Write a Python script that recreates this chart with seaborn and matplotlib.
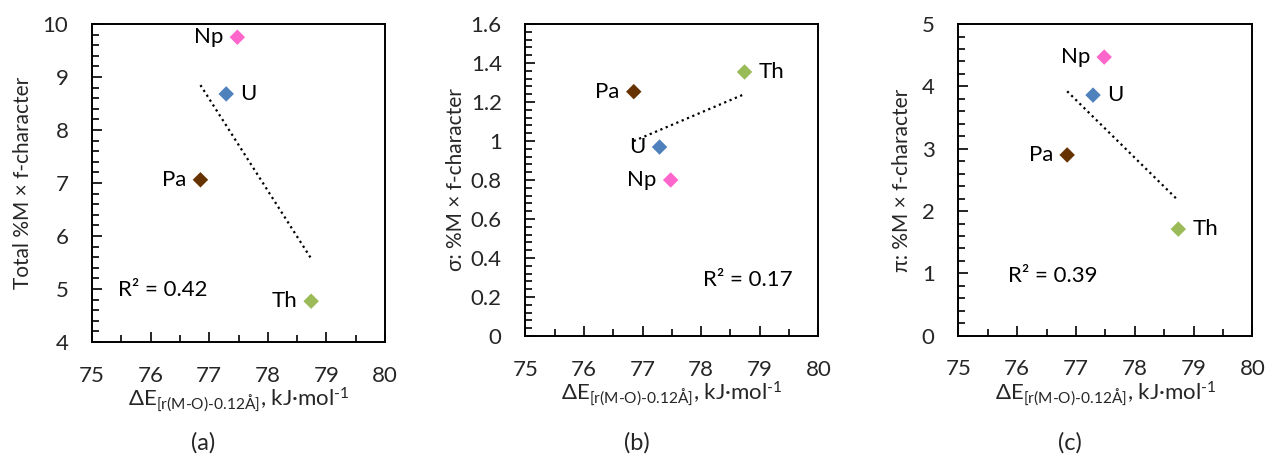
import numpy as np
import pandas as pd
import matplotlib
matplotlib.use("Agg")
import matplotlib.pyplot as plt
from matplotlib.ticker import MultipleLocator
import seaborn as sns

# ---- data ----
elements = ["Pa", "U", "Np", "Th"]
dE = [76.85, 77.29, 77.48, 78.74]
total_f = [7.06, 8.68, 9.75, 4.77]
sigma_f = [1.253, 0.969, 0.80, 1.354]
pi_f = [2.90, 3.86, 4.47, 1.71]
colors = ["#663300", "#4F81BD", "#FF66CC", "#9BBB59"]
r2_texts = ["R² = 0.42", "R² = 0.17", "R² = 0.39"]
panel_labels = ["(a)", "(b)", "(c)"]
y_labels = ["Total %M × f-character", "σ: %M × f-character", "π: %M × f-character"]
y_ranges = [(4, 10), (0, 1.6), (0, 5)]
y_major = [1, 0.2, 1]
y_minor = [0.2, 0.04, 0.2]
x_ticks = [75, 76, 77, 78, 79, 80]
sigma_ticklabels = ["0", "0.2", "0.4", "0.6", "0.8", "1", "1.2", "1.4", "1.6"]

sns.set_theme(style="white")
plt.rcParams["font.family"] = ["Lato", "DejaVu Sans"]
plt.rcParams["mathtext.fontset"] = "custom"
plt.rcParams["mathtext.rm"] = "Lato"
plt.rcParams["mathtext.it"] = "Lato"

FS = 16

fig = plt.figure(figsize=(12.68, 4.57), dpi=100)
positions = [
    [0.0726, 0.2516, 0.2310, 0.6960],
    [0.4143, 0.2648, 0.2311, 0.6827],
    [0.7558, 0.2654, 0.2319, 0.6820],
]
series = [total_f, sigma_f, pi_f]
sides = [
    {"Pa": "L", "U": "R", "Np": "L", "Th": "L"},
    {"Pa": "L", "U": "L", "Np": "L", "Th": "R"},
    {"Pa": "L", "U": "R", "Np": "L", "Th": "R"},
]
r2_pos = [(76.21, 4.98), (78.80, 0.287), (76.61, 0.958)]
ylabelpads = [7, 3, 7]
panel_x = [0.160, 0.502, 0.844]

xlabel = r"$\mathregular{\Delta E_{[r(M‐O)‐0.12Å]}}$, kJ·mol$^{\mathregular{‐1}}$"

for i in range(3):
    ax = fig.add_axes(positions[i])
    df = pd.DataFrame({"x": dE, "y": series[i], "el": elements})
    sns.regplot(data=df, x="x", y="y", ax=ax, scatter=False, ci=None, truncate=True,
                color="black", line_kws=dict(linestyle=(0, (1, 1.6)), linewidth=1.6))
    sns.scatterplot(data=df, x="x", y="y", hue="el", palette=colors, marker="D",
                    s=62, linewidth=0, ax=ax, legend=False, zorder=3)
    for el, xv, yv in zip(elements, dE, series[i]):
        if sides[i][el] == "L":
            ax.annotate(el, (xv, yv), xytext=(-14, 0), textcoords="offset pixels",
                        ha="right", va="center", fontsize=FS, color="black")
        else:
            ax.annotate(el, (xv, yv), xytext=(14, 0), textcoords="offset pixels",
                        ha="left", va="center", fontsize=FS, color="black")
    ax.text(r2_pos[i][0], r2_pos[i][1], r2_texts[i], ha="center", va="center",
            fontsize=FS, color="black")
    ax.set_xlim(75, 80)
    ax.set_ylim(*y_ranges[i])
    ax.set_xticks(x_ticks)
    ax.xaxis.set_minor_locator(MultipleLocator(0.5))
    ax.yaxis.set_major_locator(MultipleLocator(y_major[i]))
    ax.yaxis.set_minor_locator(MultipleLocator(y_minor[i]))
    if i == 1:
        ax.set_yticks(np.round(np.arange(0, 1.61, 0.2), 1))
        ax.set_yticklabels(sigma_ticklabels)
    ax.tick_params(axis="both", which="major", direction="in", length=7, width=1.2,
                   labelsize=FS, pad=17, color="black", left=True, bottom=True)
    ax.tick_params(axis="both", which="minor", direction="in", length=5, width=1.2,
                   color="black", left=True, bottom=True)
    for sp in ax.spines.values():
        sp.set_visible(True)
        sp.set_color("black")
        sp.set_linewidth(1.4)
    ax.set_xlabel(xlabel, fontsize=FS, labelpad=0)
    ax.set_ylabel(y_labels[i], fontsize=15, labelpad=ylabelpads[i])
    fig.text(panel_x[i], 0.031, panel_labels[i], ha="center", va="center", fontsize=17)

fig.savefig("out.png", dpi=100)
